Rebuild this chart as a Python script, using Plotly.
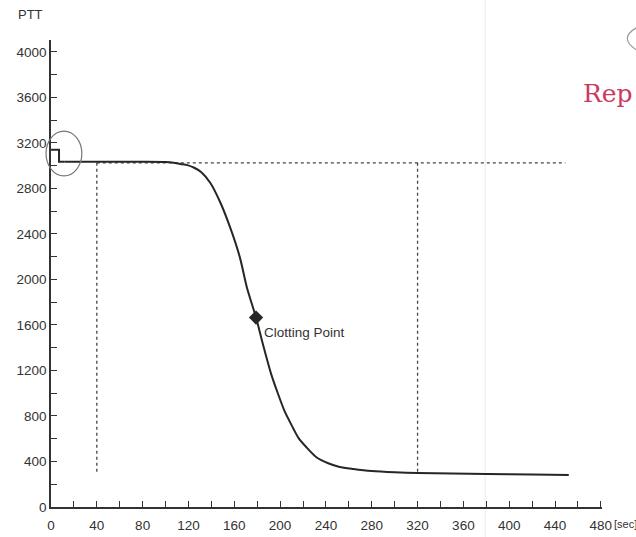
import plotly.graph_objects as go

# PTT trace read over time (seconds)
start_time = [0, 7, 7, 12]
start_ptt = [3140, 3140, 3035, 3035]

time_s = [12, 20, 40, 60, 80, 100, 107, 113, 119, 125, 131, 139, 148, 157, 165,
          171, 179, 185, 192, 198, 204, 210, 216, 223, 232, 242, 252, 264, 280,
          300, 320, 350, 380, 420, 452]
ptt = [3035, 3035, 3035, 3035, 3035, 3033, 3027, 3015, 3005, 2982, 2945, 2850,
       2672, 2440, 2190, 1930, 1665, 1430, 1175, 1000, 840, 720, 608, 525, 435,
       385, 352, 334, 316, 305, 299, 294, 290, 285, 281]

clot_time = [179]
clot_ptt = [1665]
clot_label = "Clotting Point"

ref_level = 3025
ref_start, ref_end = 40, 449
lower_level = 299
marker_times = [40, 320]

x_major = list(range(0, 481, 40))
y_major = list(range(0, 4001, 400))

ink = "#262626"
font = "Liberation Sans, Arial, sans-serif"

fig = go.Figure()

# dashed guide lines
fig.add_trace(go.Scatter(x=[ref_start, ref_end], y=[ref_level, ref_level], mode="lines",
                         line=dict(color="#444", width=1.3, dash="dot"), hoverinfo="skip"))
for t in marker_times:
    fig.add_trace(go.Scatter(x=[t, t], y=[ref_level, lower_level], mode="lines",
                             line=dict(color="#444", width=1.3, dash="dot"), hoverinfo="skip"))

# main curve
fig.add_trace(go.Scatter(x=start_time, y=start_ptt, mode="lines",
                         line=dict(color=ink, width=2)))
fig.add_trace(go.Scatter(x=time_s, y=ptt, mode="lines",
                         line=dict(color=ink, width=2, shape="spline", smoothing=0.7)))

# clotting point
fig.add_trace(go.Scatter(x=clot_time, y=clot_ptt, mode="markers",
                         marker=dict(symbol="diamond", size=11, color=ink)))

fig.add_annotation(x=clot_time[0], y=clot_ptt[0], text=clot_label, showarrow=False,
                   xanchor="left", yanchor="middle", xshift=6, yshift=-15,
                   font=dict(family=font, size=13.5, color="#333"))

axis_common = dict(showline=True, linecolor="#333", linewidth=1.6, showgrid=False,
                   zeroline=False, ticks="inside", ticklen=6, tickwidth=1.4,
                   automargin=False,
                   tickcolor="#333", tickfont=dict(family=font, size=13.5, color="#333"))

fig.update_xaxes(range=[0, 481], tickvals=x_major, ticklabelstandoff=5,
                 minor=dict(dtick=20, ticks="inside", ticklen=6, tickwidth=1.4,
                            tickcolor="#333", showgrid=False),
                 **axis_common)
fig.update_yaxes(range=[0, 4105], tickvals=y_major,
                 minor=dict(dtick=200, ticks="inside", ticklen=6, tickwidth=1.4,
                            tickcolor="#333", showgrid=False),
                 **axis_common)

fig.add_annotation(xref="paper", yref="paper", x=-0.038, y=1.054, text="PTT",
                   showarrow=False, xanchor="center", yanchor="middle",
                   font=dict(family=font, size=13, color="#333"))
fig.add_annotation(xref="paper", yref="paper", x=1.0, y=-0.036, text="[sec]",
                   showarrow=False, xanchor="left", yanchor="middle", xshift=10,
                   font=dict(family=font, size=11, color="#333"))

# handwritten note and pencil marks
fig.add_annotation(xref="paper", yref="paper", x=0.962, y=0.885, text="Rep",
                   showarrow=False, xanchor="left", yanchor="middle",
                   font=dict(family="DejaVu Serif", size=25, color="#cc3a62"))

shapes = [
    dict(type="circle", xref="paper", yref="paper", x0=-0.009, x1=0.056,
         y0=0.709, y1=0.805, line=dict(color="#777", width=1.2)),
    dict(type="path", xref="paper", yref="paper",
         path="M 1.062,1.026 Q 1.030,1.004 1.062,0.979",
         line=dict(color="#999", width=1.2)),
    dict(type="line", xref="paper", yref="paper", x0=0.788, x1=0.788,
         y0=-0.064, y1=1.086, line=dict(color="#ececec", width=1), layer="below"),
]
fig.update_layout(shapes=shapes)

fig.update_layout(width=636, height=537, showlegend=False,
                  margin=dict(l=51, r=34, t=40, b=30),
                  paper_bgcolor="white", plot_bgcolor="white")

fig.write_html("out.html")
